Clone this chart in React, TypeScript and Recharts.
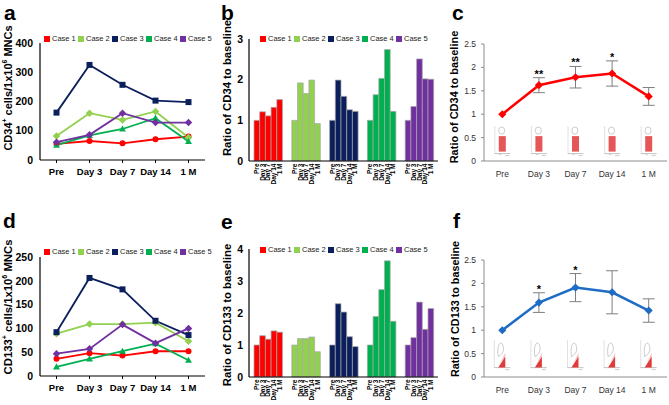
import React from 'react';
import { LineChart, Line, BarChart, Bar, Cell, XAxis, YAxis, Legend, ErrorBar, LabelList } from 'recharts';

const FONT = '"Liberation Sans", Arial, Helvetica, sans-serif';

const days = ['Pre', 'Day 3', 'Day 7', 'Day 14', '1 M'];
const cases = ['Case 1', 'Case 2', 'Case 3', 'Case 4', 'Case 5'];
const caseColors = ['#FF0000', '#92D050', '#0B1F5C', '#00B050', '#7030A0'];
const caseMarkers = ['circle', 'diamond', 'square', 'triangle', 'diamond'];

// panel a: CD34+ cells / 1x10^6 MNCs, one row per case (Pre .. 1 M)
const cd34Counts = [
  [55, 65, 57, 71, 80],
  [82, 160, 137, 166, 77],
  [162, 325, 257, 203, 198],
  [51, 84, 106, 143, 63],
  [61, 86, 160, 128, 128],
];

// panel d: CD133+ cells / 1x10^6 MNCs
const cd133Counts = [
  [36, 48, 43, 52, 52],
  [89, 109, 109, 112, 73],
  [92, 206, 182, 116, 86],
  [19, 36, 52, 68, 33],
  [47, 57, 108, 69, 100],
];

// panel b: ratio of CD34 to baseline
const cd34Ratio = [
  [1, 1.21, 1.11, 1.32, 1.51],
  [1, 1.92, 1.66, 1.99, 0.92],
  [1, 1.99, 1.59, 1.26, 1.22],
  [1, 1.63, 2.03, 2.74, 1.22],
  [1, 1.34, 2.51, 2.02, 2.01],
];

// panel e: ratio of CD133 to baseline
const cd133Ratio = [
  [1, 1.29, 1.18, 1.44, 1.4],
  [1, 1.2, 1.2, 1.25, 0.79],
  [1, 2.29, 2.03, 1.26, 0.95],
  [1, 1.89, 2.73, 3.63, 1.74],
  [1, 1.23, 2.34, 1.49, 2.14],
];

// panels c and f: mean ratio, error, significance
const cd34Mean = [1, 1.62, 1.79, 1.87, 1.38];
const cd34Err = [0, 0.16, 0.23, 0.27, 0.19];
const cd34Sig = ['', '**', '**', '*', ''];
const cd133Mean = [1, 1.59, 1.91, 1.81, 1.42];
const cd133Err = [0, 0.21, 0.3, 0.46, 0.25];
const cd133Sig = ['', '*', '*', '', ''];

const THUMB_LEVEL = 0.35;

function countRows(counts: number[][]) {
  return days.map((d, j) => {
    const row: Record<string, string | number> = { day: d };
    cases.forEach((_, i) => { row[`c${i}`] = counts[i][j]; });
    return row;
  });
}

function ratioRows(ratios: number[][]) {
  return cases.map((c, i) => {
    const row: Record<string, string | number> = { name: c };
    days.forEach((_, j) => { row[`d${j}`] = ratios[i][j]; });
    return row;
  });
}

function meanRows(mean: number[], err: number[], sig: string[]) {
  return days.map((d, j) => ({ day: d, mean: mean[j], err: err[j], top: mean[j] + err[j], sig: sig[j] }));
}

const Marker = ({ cx, cy, shape, color, size = 6 }: any) => {
  if (cx == null || cy == null) return null;
  const s = size / 2;
  if (shape === 'circle') return <circle cx={cx} cy={cy} r={s} fill={color} />;
  if (shape === 'square') return <rect x={cx - s} y={cy - s} width={size} height={size} fill={color} />;
  if (shape === 'triangle')
    return <path d={`M${cx},${cy - s * 1.2}L${cx + s * 1.15},${cy + s * 0.85}L${cx - s * 1.15},${cy + s * 0.85}Z`} fill={color} />;
  return <path d={`M${cx},${cy - s * 1.25}L${cx + s * 1.25},${cy}L${cx},${cy + s * 1.25}L${cx - s * 1.25},${cy}Z`} fill={color} />;
};

const CaseLegend = () => (
  <div style={{ display: 'flex', fontFamily: FONT, fontSize: 7.5, color: '#222', lineHeight: '10px' }}>
    {cases.map((c, i) => (
      <div key={c} style={{ display: 'flex', alignItems: 'center', width: 34, whiteSpace: 'nowrap' }}>
        <span style={{ display: 'inline-block', width: 6, height: 6, background: caseColors[i], marginRight: 2 }} />
        {c}
      </div>
    ))}
  </div>
);

const dayTick = (text: string) => (p: any) => {
  const vb = p.viewBox || p;
  const x = Number(vb.x) + Number(vb.width) / 2 + 2.2;
  const y = Number(vb.y) + Number(vb.height) + 2.5;
  return (
    <text x={x} y={y} transform={`rotate(-90 ${x} ${y})`} textAnchor="end" fontSize={6.5} fontWeight="bold" fontFamily={FONT} fill="#000">
      {text}
    </text>
  );
};

const starLabel = (p: any) => {
  const vb = p.viewBox || p;
  if (!p.value) return null;
  return (
    <text x={Number(vb.x)} y={Number(vb.y)} textAnchor="middle" fontSize={11} fontWeight="bold" fontFamily={FONT} fill="#000">
      {p.value}
    </text>
  );
};

// little flow-cytometry plots drawn under the c curve
const ThumbBox = ({ cx, cy }: any) => (
  <g>
    <line x1={cx - 7.5} y1={cy - 18} x2={cx - 7.5} y2={cy + 9} stroke="#9a9a9a" strokeWidth={0.6} strokeDasharray="1 1" />
    <line x1={cx - 7.5} y1={cy + 9} x2={cx + 8} y2={cy + 9} stroke="#9a9a9a" strokeWidth={0.6} />
    <line x1={cx - 3} y1={cy + 10} x2={cx - 1} y2={cy + 10} stroke="#aaa" strokeWidth={0.6} />
    <line x1={cx + 3} y1={cy + 11} x2={cx + 7} y2={cy + 11} stroke="#aaa" strokeWidth={0.6} />
    <rect x={cx - 3.5} y={cy - 8.5} width={7} height={15.5} fill="#e03a3a" opacity={0.85} />
    <ellipse cx={cx - 0.6} cy={cy - 14} rx={3} ry={3.6} fill="none" stroke="#999" strokeWidth={0.5} />
  </g>
);

// little flow-cytometry plots drawn under the f curve
const ThumbTri = ({ cx, cy }: any) => (
  <g>
    <line x1={cx - 8} y1={cy - 20} x2={cx - 8} y2={cy + 7} stroke="#9a9a9a" strokeWidth={0.6} strokeDasharray="1 1" />
    <line x1={cx - 8} y1={cy + 7} x2={cx + 8} y2={cy + 7} stroke="#9a9a9a" strokeWidth={0.6} />
    <line x1={cx + 3} y1={cy + 9} x2={cx + 7} y2={cy + 9} stroke="#aaa" strokeWidth={0.6} />
    <path d={`M${cx - 4},${cy + 7}L${cx + 3},${cy - 8}L${cx + 3},${cy - 4}L${cx - 2},${cy + 3}Z`} fill="#f3c5c5" />
    <path d={`M${cx - 4},${cy + 7}L${cx + 3},${cy + 7}L${cx + 3},${cy - 4}Z`} fill="#e03a3a" />
    <path d={`M${cx - 4},${cy - 4}C${cx - 6},${cy - 16} ${cx - 1},${cy - 22} ${cx + 1},${cy - 14}C${cx + 2},${cy - 8} ${cx - 1},${cy - 6} ${cx - 4},${cy - 4}Z`} fill="none" stroke="#999" strokeWidth={0.5} />
  </g>
);

function CountChart({ counts, max, ticks, height, marginTop, marginBottom, xHeight, legendTop }: any) {
  const rows = countRows(counts);
  return (
    <LineChart width={223} height={height} data={rows} margin={{ top: marginTop, right: 18, bottom: marginBottom, left: 0 }}>
      <XAxis dataKey="day" height={xHeight} padding={{ left: 16.5, right: 16.5 }} interval={0}
        axisLine={{ stroke: '#000', strokeWidth: 1.2 }} tickLine={{ stroke: '#000' }} tickSize={3} tickMargin={5}
        tick={{ fontSize: 9.5, fontWeight: 'bold', fill: '#000', fontFamily: FONT }} />
      <YAxis domain={[0, max]} ticks={ticks} width={40} axisLine={{ stroke: '#000', strokeWidth: 1.2 }} tickLine={false}
        tickSize={6} tickMargin={1} tick={{ fontSize: 10.5, fontWeight: 'bold', fill: '#000', fontFamily: FONT }} />
      <Legend verticalAlign="middle" align="center" layout="horizontal" content={() => <CaseLegend />}
        wrapperStyle={{ left: 44, top: legendTop, width: 180, height: 10 }} />
      {cases.map((c, i) => (
        <Line key={c} dataKey={`c${i}`} name={c} stroke={caseColors[i]} strokeWidth={1.8} isAnimationActive={false}
          activeDot={false}
          dot={(p: any) => <Marker key={`${c}-${p.index}`} cx={p.cx} cy={p.cy} shape={caseMarkers[i]} color={caseColors[i]} />} />
      ))}
    </LineChart>
  );
}

function RatioChart({ ratios, max, ticks, height, marginTop, marginBottom, xHeight, legendTop }: any) {
  const rows = ratioRows(ratios);
  return (
    <BarChart width={230} height={height} data={rows} barGap={0}
      margin={{ top: marginTop, right: 7, bottom: marginBottom, left: 0 }}>
      <XAxis dataKey="name" height={xHeight} tick={false} tickLine={false} axisLine={{ stroke: '#000', strokeWidth: 1.2 }} />
      <YAxis domain={[0, max]} ticks={ticks} width={34} axisLine={{ stroke: '#000', strokeWidth: 1.2 }} tickLine={false}
        tickSize={6} tickMargin={0} tick={{ fontSize: 10.5, fontWeight: 'bold', fill: '#000', fontFamily: FONT }} />
      <Legend verticalAlign="middle" align="center" layout="horizontal" content={() => <CaseLegend />}
        wrapperStyle={{ left: 45, top: legendTop, width: 180, height: 10 }} />
      {days.map((d, j) => (
        <Bar key={d} dataKey={`d${j}`} name={d} barSize={5.7} stroke="#a6a6a6" strokeWidth={0.7} isAnimationActive={false}>
          {rows.map((_, i) => <Cell key={i} fill={caseColors[i]} />)}
          <LabelList dataKey={`d${j}`} content={dayTick(d)} />
        </Bar>
      ))}
    </BarChart>
  );
}

function MeanChart({ mean, err, sig, color, height, marginTop, marginBottom, xHeight, Thumb }: any) {
  const rows = meanRows(mean, err, sig);
  return (
    <LineChart width={229} height={height} data={rows} margin={{ top: marginTop, right: 2, bottom: marginBottom, left: 0 }}>
      <XAxis dataKey="day" height={xHeight} padding={{ left: 18.3, right: 18.3 }} interval={0}
        axisLine={{ stroke: '#8c8c8c' }} tickLine={false} tickSize={4} tickMargin={6}
        tick={{ fontSize: 8.5, fill: '#333', fontFamily: FONT }} />
      <YAxis domain={[0, 2.5]} ticks={[0, 0.5, 1, 1.5, 2, 2.5]} width={44} axisLine={{ stroke: '#8c8c8c' }}
        tickLine={{ stroke: '#8c8c8c' }} tickSize={3} tickMargin={5} tick={{ fontSize: 8.5, fill: '#333', fontFamily: FONT }} />
      <Line dataKey={() => THUMB_LEVEL} stroke="none" isAnimationActive={false} activeDot={false}
        dot={(p: any) => <Thumb key={`t${p.index}`} cx={p.cx} cy={p.cy} />} />
      <Line dataKey="top" stroke="none" dot={false} activeDot={false} isAnimationActive={false}>
        <LabelList dataKey="sig" content={starLabel} />
      </Line>
      <Line dataKey="mean" stroke={color} strokeWidth={2.5} isAnimationActive={false} activeDot={false}
        dot={(p: any) => <Marker key={`m${p.index}`} cx={p.cx} cy={p.cy} shape="diamond" color={color} size={6.5} />}>
        <ErrorBar dataKey="err" width={6} stroke="#7f7f7f" strokeWidth={1} direction="y" />
      </Line>
    </LineChart>
  );
}

const YTitle = ({ x, y, size, children }: any) => (
  <text x={x} y={y} transform={`rotate(-90 ${x} ${y})`} textAnchor="middle" dominantBaseline="central"
    fontSize={size} fontWeight="bold" fontFamily={FONT} fill="#000">
    {children}
  </text>
);

const Sup = ({ size, children, after }: any) => (
  <>
    <tspan dy={-size * 0.38} fontSize={size * 0.62}>{children}</tspan>
    <tspan dy={size * 0.38}>{after}</tspan>
  </>
);

export default function App() {
  return (
    <div style={{ position: 'absolute', left: 0, top: 0, width: 669, height: 405, background: '#fff', overflow: 'hidden', fontFamily: FONT }}>
      <div style={{ position: 'absolute', left: 0, top: 0 }}>
        <CountChart counts={cd34Counts} max={400} ticks={[0, 100, 200, 300, 400]} height={200}
          marginTop={43} marginBottom={10} xHeight={30} legendTop={34} />
      </div>
      <div style={{ position: 'absolute', left: 0, top: 200 }}>
        <CountChart counts={cd133Counts} max={250} ticks={[0, 50, 100, 150, 200, 250]} height={205}
          marginTop={57} marginBottom={4} xHeight={25} legendTop={47} />
      </div>
      <div style={{ position: 'absolute', left: 215, top: 0 }}>
        <RatioChart ratios={cd34Ratio} max={3} ticks={[0, 1, 2, 3]} height={200}
          marginTop={39} marginBottom={9} xHeight={30} legendTop={34} />
      </div>
      <div style={{ position: 'absolute', left: 215, top: 200 }}>
        <RatioChart ratios={cd133Ratio} max={4} ticks={[0, 1, 2, 3, 4]} height={205}
          marginTop={49} marginBottom={4} xHeight={24} legendTop={45} />
      </div>
      <div style={{ position: 'absolute', left: 440, top: 0 }}>
        <MeanChart mean={cd34Mean} err={cd34Err} sig={cd34Sig} color="#FF0000" height={200}
          marginTop={44} marginBottom={9} xHeight={30} Thumb={ThumbBox} />
      </div>
      <div style={{ position: 'absolute', left: 440, top: 200 }}>
        <MeanChart mean={cd133Mean} err={cd133Err} sig={cd133Sig} color="#1F6CC6" height={205}
          marginTop={60} marginBottom={4} xHeight={24} Thumb={ThumbTri} />
      </div>

      <svg width={669} height={405} style={{ position: 'absolute', left: 0, top: 0, pointerEvents: 'none' }}>
        <g fontFamily={FONT} fontWeight="bold" fontSize={21} fill="#000">
          <text x={4} y={20}>a</text>
          <text x={221} y={20}>b</text>
          <text x={452} y={20}>c</text>
          <text x={3} y={228}>d</text>
          <text x={221} y={229}>e</text>
          <text x={453} y={228}>f</text>
        </g>
        <YTitle x={8} y={88} size={11}>
          CD34<Sup size={11} after=" cells/1x10">+</Sup><Sup size={11} after=" MNCs">6</Sup>
        </YTitle>
        <YTitle x={8} y={307} size={11.3}>
          CD133<Sup size={11.3} after=" cells/1x10">+</Sup><Sup size={11.3} after=" MNCs">6</Sup>
        </YTitle>
        <YTitle x={226.5} y={88} size={11.3}>Ratio of CD34 to baseline</YTitle>
        <YTitle x={227} y={315} size={11.3}>Ratio of CD133 to baseline</YTitle>
        <YTitle x={454} y={97} size={11}>Ratio of CD34 to baseline</YTitle>
        <YTitle x={455} y={309} size={10.8}>Ratio of CD133 to baseline</YTitle>
      </svg>
    </div>
  );
}
